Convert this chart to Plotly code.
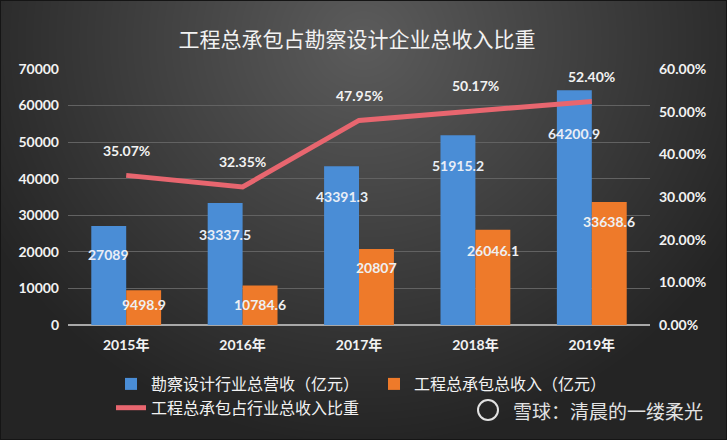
import base64, struct, zlib
import numpy as np
import plotly.graph_objects as go

# ---------------- data ----------------
years = ["2015年", "2016年", "2017年", "2018年", "2019年"]
revenue_total = [27089, 33337.5, 43391.3, 51915.2, 64200.9]       # 勘察设计行业总营收（亿元）
epc_revenue = [9498.9, 10784.6, 20807, 26046.1, 33638.6]          # 工程总承包总收入（亿元）
epc_share = [0.3507, 0.3235, 0.4795, 0.5017, 0.5240]              # 工程总承包占行业总收入比重
revenue_labels = ["27089", "33337.5", "43391.3", "51915.2", "64200.9"]
epc_labels = ["9498.9", "10784.6", "20807", "26046.1", "33638.6"]
share_labels = ["35.07%", "32.35%", "47.95%", "50.17%", "52.40%"]

# label placement (styling, pixels below bar top)
rev_label_dy = [29, 31, 30, 30, 43]
epc_label_dy = [14, 19, 19, 21, 20]

W, H = 727, 440
ML, MR, MT, MB = 68, 77, 69, 115
PW, PH = W - ML - MR, H - MT - MB

# ---------------- background gradient image ----------------
yy, xx = np.mgrid[0:H, 0:W].astype(float)
d = np.sqrt(((xx - 363) / 1.0) ** 2 + ((yy - 40) / 0.95) ** 2)
c = 92 - 56 * np.clip(d / 430, 0, 1) ** 1.0
img = np.clip(np.stack([c, c, c], axis=-1), 0, 255).astype(np.uint8)

def png_bytes(arr):
    h, w, _ = arr.shape
    raw = b"".join(b"\x00" + arr[i].tobytes() for i in range(h))
    def chunk(t, data):
        return struct.pack(">I", len(data)) + t + data + struct.pack(">I", zlib.crc32(t + data) & 0xffffffff)
    return (b"\x89PNG\r\n\x1a\n" + chunk(b"IHDR", struct.pack(">IIBBBBB", w, h, 8, 2, 0, 0, 0))
            + chunk(b"IDAT", zlib.compress(raw, 9)) + chunk(b"IEND", b""))

bg_uri = "data:image/png;base64," + base64.b64encode(png_bytes(img)).decode()

NUMFONT = "Lato, 'Noto Sans CJK SC', sans-serif"
CJK = "'Noto Sans CJK SC', sans-serif"

fig = go.Figure()
fig.add_trace(go.Bar(x=years, y=revenue_total, name="勘察设计行业总营收（亿元）",
                     marker=dict(color="#4a8dd6", line=dict(width=0)), yaxis="y"))
fig.add_trace(go.Bar(x=years, y=epc_revenue, name="工程总承包总收入（亿元）",
                     marker=dict(color="#ee7a2a", line=dict(width=0)), yaxis="y"))
fig.add_trace(go.Scatter(x=years, y=epc_share, name="工程总承包占行业总收入比重", mode="lines",
                         line=dict(color="#e8666f", width=5), yaxis="y2"))

annotations = []
bar_px = PW / len(years) * 0.6 / 2  # each bar width in px
for i, yr in enumerate(years):
    annotations.append(dict(x=yr, y=revenue_total[i], xref="x", yref="y", text=revenue_labels[i],
                            showarrow=False, xshift=-bar_px / 2, yshift=-rev_label_dy[i],
                            font=dict(family=NUMFONT, size=14, color="#e9eef6", weight="bold")))
    annotations.append(dict(x=yr, y=epc_revenue[i], xref="x", yref="y", text=epc_labels[i],
                            showarrow=False, xshift=bar_px / 2, yshift=-epc_label_dy[i],
                            font=dict(family=NUMFONT, size=14, color="#eef0f2", weight="bold")))
    annotations.append(dict(x=yr, y=epc_share[i], xref="x", yref="y2", text=share_labels[i],
                            showarrow=False, yshift=25,
                            font=dict(family=NUMFONT, size=14, color="#f2f2f2", weight="bold")))

annotations.append(dict(x=(705 - ML) / PW, y=(MT + PH - 410) / PH, xref="paper", yref="paper",
                        text="雪球：清晨的一缕柔光", showarrow=False, xanchor="right", yanchor="middle",
                        font=dict(family=CJK, size=19, color="#e2e2e2")))

fig.update_layout(
    width=W, height=H,
    margin=dict(l=ML, r=MR, t=MT, b=MB, autoexpand=False),
    paper_bgcolor="#3a3a3a", plot_bgcolor="rgba(0,0,0,0)",
    images=[dict(source=bg_uri, xref="paper", yref="paper", x=-ML / PW, y=1 + MT / PH,
                 sizex=W / PW, sizey=H / PH, xanchor="left", yanchor="top",
                 sizing="stretch", layer="below")],
    title=dict(text="工程总承包占勘察设计企业总收入比重", x=357 / W, xanchor="center",
               y=1 - 40 / H, yanchor="middle", yref="container",
               font=dict(family=CJK, size=21, color="#f2f2f2")),
    barmode="group", bargap=0.4, bargroupgap=0,
    xaxis=dict(showgrid=False, showline=False, ticks="", ticklabelstandoff=10, automargin=False,
               tickfont=dict(family=NUMFONT, size=14, color="#f2f2f2", weight="bold")),
    yaxis=dict(range=[0, 70000], dtick=10000, showgrid=True, gridcolor="#626262", gridwidth=1,
               zeroline=True, zerolinecolor="#a8a8a8", zerolinewidth=2, showline=False,
               ticks="", ticklabelstandoff=8, tickformat="d", automargin=False,
               tickfont=dict(family=NUMFONT, size=14, color="#f2f2f2", weight="bold")),
    yaxis2=dict(range=[0, 0.6], dtick=0.1, overlaying="y", side="right", tickformat=".2%",
                showgrid=False, zeroline=False, showline=False, ticks="", ticklabelstandoff=8,
                automargin=False,
                tickfont=dict(family=NUMFONT, size=14, color="#f2f2f2", weight="bold")),
    legend=dict(orientation="h", xref="container", yref="container", x=111 / W, xanchor="left",
                y=1 - 367 / H, yanchor="top", entrywidth=218, entrywidthmode="pixels",
                bgcolor="rgba(0,0,0,0)", traceorder="normal",
                font=dict(family=CJK, size=16, color="#f2f2f2")),
    annotations=annotations,
    shapes=[dict(type="circle", xref="paper", yref="paper", xsizemode="pixel", ysizemode="pixel",
                 xanchor=(488 - ML) / PW, yanchor=(MT + PH - 410) / PH,
                 x0=-10, x1=10, y0=-10, y1=10, line=dict(color="#e2e2e2", width=2)),
            dict(type="rect", xref="paper", yref="paper", x0=-ML / PW, x1=1 + MR / PW,
                 y0=-MB / PH, y1=1 + MT / PH, line=dict(color="#151515", width=2))],
    showlegend=True,
)

fig.write_html("out.html", config={"displayModeBar": False},
               post_script="document.body.style.margin='0';")
